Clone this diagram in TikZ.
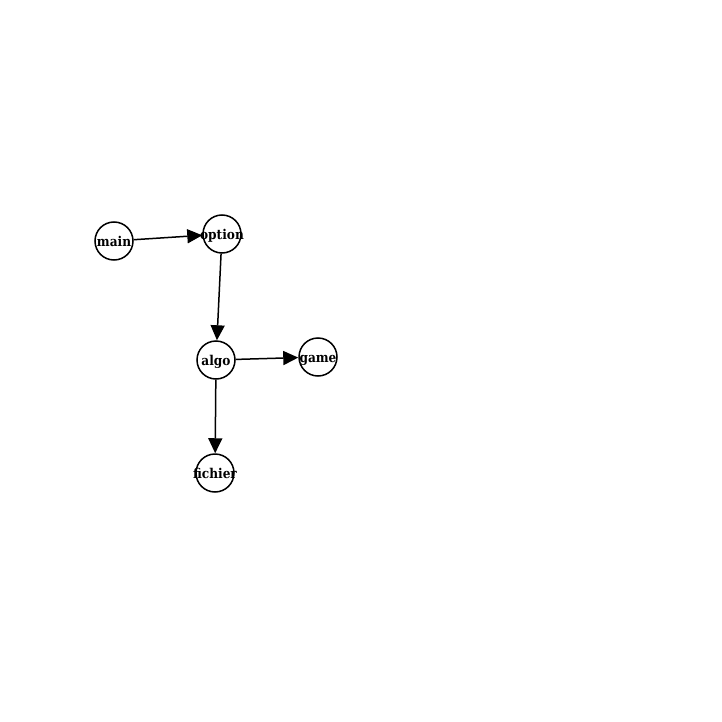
\documentclass[tikz,border=0pt]{standalone}
\usepackage{fontspec}
\setmainfont{DejaVu Serif Condensed}
\usetikzlibrary{arrows.meta}

\begin{document}
\begin{tikzpicture}[x=1pt, y=-1pt,
  modnode/.style={draw, circle, line width=1.5pt, minimum size=38pt, inner sep=0pt, text height=10pt, text depth=0pt, font=\fontsize{13.5}{13.5}\selectfont\bfseries},
  dep/.style={line width=1.5pt, -{Triangle[length=15pt, width=14pt]}}]
  \useasboundingbox (0,0) rectangle (722,722);
  \node[modnode] (main) at (114,241) {\makebox[0pt]{main}};
  \node[modnode] (option) at (222,234) {\makebox[0pt]{option}};
  \node[modnode] (algo) at (216,360) {\makebox[0pt]{algo}};
  \node[modnode] (game) at (318,357) {\makebox[0pt]{game}};
  \node[modnode] (fichier) at (215,473) {\makebox[0pt]{fichier}};
  \draw[dep] (main) -- (option);
  \draw[dep] (option) -- (algo);
  \draw[dep] (algo) -- (game);
  \draw[dep] (algo) -- (fichier);
\end{tikzpicture}
\end{document}
